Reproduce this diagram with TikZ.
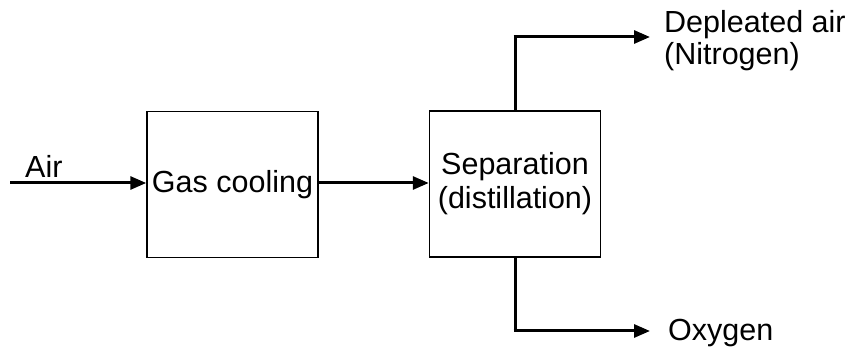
\documentclass[tikz,border=0pt]{standalone}
\usepackage{fontspec}
\setmainfont{Liberation Sans}
\usetikzlibrary{arrows.meta}
\begin{document}
\begin{tikzpicture}[x=1pt,y=-1pt,
  procbox/.style={draw,line width=1.5pt,minimum width=171pt,minimum height=146pt,inner sep=0pt,align=center,font=\fontsize{30.5}{34}\selectfont},
  flow/.style={line width=3pt,-{Triangle[length=16pt,width=13pt]}},
  lbl/.style={inner sep=0pt,anchor=west,align=left,font=\fontsize{30.5}{32}\selectfont}]
\useasboundingbox (0,0) rectangle (847,347);
\node[procbox] (gas) at (232.5,184.5) {Gas cooling};
\node[procbox] (sep) at (515,184) {Separation\\(distillation)};
\coordinate (in) at (10,183);
\node[lbl] (air) at (25,166) {Air};
\coordinate (n2end) at (650,37);
\coordinate (o2end) at (650,331);
\node[lbl,anchor=north west] (n2) at (664,10) {Depleated air\\(Nitrogen)};
\node[lbl] (o2) at (668,333) {Oxygen};
\draw[flow] (in) -- (gas.west |- in);
\draw[flow] (gas.east |- in) -- (sep.west |- in);
\draw[flow,-] (sep.north) -- (sep.north |- n2end);
\draw[flow] ([xshift=-1.5pt]sep.north |- n2end) -- (n2end);
\draw[flow,-] (sep.south) -- (sep.south |- o2end);
\draw[flow] ([xshift=-1.5pt]sep.south |- o2end) -- (o2end);
\end{tikzpicture}
\end{document}
